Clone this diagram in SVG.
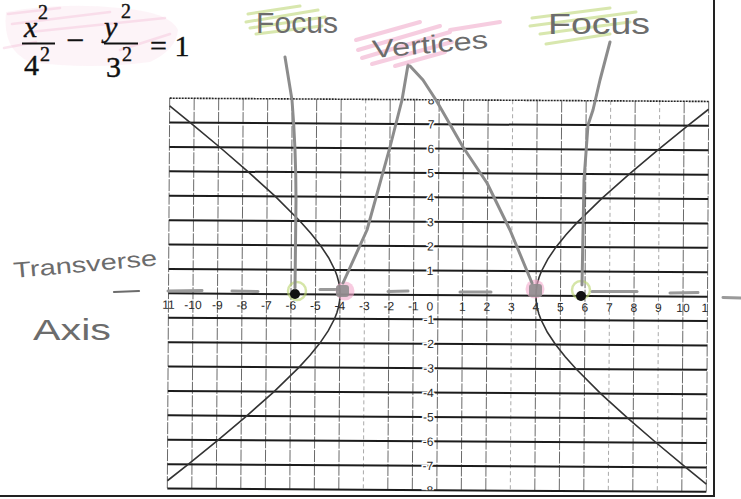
<svg xmlns="http://www.w3.org/2000/svg" width="741" height="499" viewBox="0 0 741 499">
<style>
.hl{stroke:#1c1c1c;stroke-width:2;fill:none}
.vl{stroke:#5a5a5a;stroke-width:0.9;stroke-dasharray:12 1.5;fill:none}
.vlf{stroke:#a0a0a0;stroke-width:0.9;stroke-dasharray:4 3;fill:none}
.lbl{font-family:"Liberation Sans",Arial,sans-serif;font-size:12px;fill:#2a2a2a;text-anchor:middle}
.ylbl{font-family:"Liberation Sans",Arial,sans-serif;font-size:12px;fill:#2a2a2a;text-anchor:middle;stroke:#fff;stroke-width:3;paint-order:stroke}
.curve{stroke:#333;stroke-width:1.6;fill:none}
.math{font-family:"Liberation Serif","Times New Roman",serif;fill:#111;stroke:#111;stroke-width:0.4}
.hand{font-family:"Liberation Sans",Arial,sans-serif;fill:#6c6c6c}
.pencil{stroke:#8c8c8c;stroke-width:3;fill:none;stroke-linecap:round;stroke-linejoin:round}
.tick{stroke:#9a9a9a;stroke-width:3;stroke-linecap:round}
.green{stroke:#b9d46c;stroke-width:3;opacity:.55;stroke-linecap:round}
.pink{stroke:#ee9cc2;stroke-width:3;opacity:.5;stroke-linecap:round}
</style>
<defs>
<path id="branch" d="M98,0 L98.3,-6.1 L99.3,-12.2 L101,-18.3 L103.3,-24.4 L109.6,-36.6 L117.8,-48.8 L127.6,-61 L138.6,-73.2 L163.3,-97.6 L190.5,-122 L219.1,-146.4 L248.8,-170.8 L269.5,-187.4"/>
<clipPath id="gclip"><rect x="-272" y="-195.2" width="544" height="390.4"/></clipPath>
</defs>
<rect width="741" height="499" fill="#fff"/>

<g id="equation-highlight">
<path d="M6,12 Q60,2 120,8 Q170,12 178,30 Q176,50 150,62 Q90,70 30,62 Q2,50 6,12 Z" fill="#f9dbe8" opacity=".3"/>
<path class="pink" d="M8,14 L60,8 M12,24 L110,12 M30,32 L165,18 M120,50 L170,34 M4,48 L36,42" style="stroke-width:2.5;opacity:.25"/>
</g>

<g id="equation">
<text class="math" x="24" y="37" font-size="30" font-style="italic">x</text>
<text class="math" x="38" y="19" font-size="20">2</text>
<line x1="22" y1="43.5" x2="55" y2="43.5" stroke="#111" stroke-width="1.8"/>
<text class="math" x="24" y="75" font-size="30">4</text>
<text class="math" x="40" y="61" font-size="20">2</text>
<text class="math" x="66" y="51" font-size="32">−</text>
<text class="math" x="104" y="37" font-size="30" font-style="italic">y</text>
<text class="math" x="121" y="18" font-size="20">2</text>
<line x1="104" y1="43.5" x2="138" y2="43.5" stroke="#111" stroke-width="1.8"/>
<text class="math" x="106" y="77" font-size="30">3</text>
<text class="math" x="122" y="61" font-size="20">2</text>
<text class="math" x="150" y="56" font-size="30">= 1</text>
</g>

<g id="graph" transform="translate(438,295) rotate(0.35)">
<g id="grid">
<path class="vl" d="M-269.5,-195.2V195.2M-245,-195.2V195.2M-220.5,-195.2V195.2M-196,-195.2V195.2M-171.5,-195.2V195.2M-147,-195.2V195.2M-122.5,-195.2V195.2M-98,-195.2V195.2M-49,-195.2V195.2M-24.5,-195.2V195.2M0,-195.2V195.2M24.5,-195.2V195.2M49,-195.2V195.2M98,-195.2V195.2M122.5,-195.2V195.2M147,-195.2V195.2M196,-195.2V195.2M245,-195.2V195.2M269.5,-195.2V195.2"/>
<path class="vlf" d="M-73.5,-195.2V195.2M73.5,-195.2V195.2M171.5,-195.2V195.2M220.5,-195.2V195.2"/>
<path class="hl" d="M-269.5,-170.8H269.5M-269.5,-146.4H269.5M-269.5,-122H269.5M-269.5,-97.6H269.5M-269.5,-73.2H269.5M-269.5,-48.8H269.5M-269.5,-24.4H269.5M-269.5,0H269.5M-269.5,24.4H269.5M-269.5,48.8H269.5M-269.5,73.2H269.5M-269.5,97.6H269.5M-269.5,122H269.5M-269.5,146.4H269.5M-269.5,170.8H269.5M-269.5,195.2H269.5"/>
<path d="M-269.5,-195.2H269.5" stroke="#222" stroke-width="1.6" stroke-dasharray="2 1" fill="none"/>
</g>
<g id="x-labels">
<text class="lbl" x="-269.5" y="15.5">11</text>
<text class="lbl" x="-245" y="15.5">-10</text>
<text class="lbl" x="-220.5" y="15.5">-9</text>
<text class="lbl" x="-196" y="15.5">-8</text>
<text class="lbl" x="-171.5" y="15.5">-7</text>
<text class="lbl" x="-147" y="15.5">-6</text>
<text class="lbl" x="-122.5" y="15.5">-5</text>
<text class="lbl" x="-98" y="15.5">-4</text>
<text class="lbl" x="-73.5" y="15.5">-3</text>
<text class="lbl" x="-49" y="15.5">-2</text>
<text class="lbl" x="-24.5" y="15.5">-1</text>
<text class="lbl" x="-8" y="15.5">0</text>
<text class="lbl" x="24.5" y="15.5">1</text>
<text class="lbl" x="49" y="15.5">2</text>
<text class="lbl" x="73.5" y="15.5">3</text>
<text class="lbl" x="98" y="15.5">4</text>
<text class="lbl" x="122.5" y="15.5">5</text>
<text class="lbl" x="147" y="15.5">6</text>
<text class="lbl" x="171.5" y="15.5">7</text>
<text class="lbl" x="196" y="15.5">8</text>
<text class="lbl" x="220.5" y="15.5">9</text>
<text class="lbl" x="245" y="15.5">10</text>
<text class="lbl" x="267" y="15.5">1</text>
</g>
<g id="y-labels" clip-path="url(#gclip)">
<text class="ylbl" x="-8" y="-190.8">8</text>
<text class="ylbl" x="-8" y="-166.4">7</text>
<text class="ylbl" x="-8" y="-142">6</text>
<text class="ylbl" x="-8" y="-117.6">5</text>
<text class="ylbl" x="-8" y="-93.2">4</text>
<text class="ylbl" x="-8" y="-68.8">3</text>
<text class="ylbl" x="-8" y="-44.4">2</text>
<text class="ylbl" x="-8" y="-20">1</text>
<text class="ylbl" x="-9" y="28.8">-1</text>
<text class="ylbl" x="-9" y="53.2">-2</text>
<text class="ylbl" x="-9" y="77.6">-3</text>
<text class="ylbl" x="-9" y="102">-4</text>
<text class="ylbl" x="-9" y="126.4">-5</text>
<text class="ylbl" x="-9" y="150.8">-6</text>
<text class="ylbl" x="-9" y="175.2">-7</text>
<text class="ylbl" x="-9" y="199.6">-8</text>
</g>
<g id="hyperbola">
<use href="#branch" class="curve"/>
<use href="#branch" class="curve" transform="scale(-1,1)"/>
<use href="#branch" class="curve" transform="scale(1,-1)"/>
<use href="#branch" class="curve" transform="scale(-1,-1)"/>
</g>
</g>

<g id="transverse-axis-marks">
<line class="tick" x1="168" y1="291" x2="202" y2="290.5"/>
<line class="tick" x1="232" y1="291" x2="258" y2="291.5"/>
<line class="tick" x1="320" y1="289.5" x2="338" y2="289.5"/>
<line class="tick" x1="388" y1="291.5" x2="408" y2="291"/>
<line class="tick" x1="460" y1="292" x2="491" y2="292"/>
<line class="tick" x1="592" y1="291.5" x2="637" y2="291.5"/>
<line class="tick" x1="670" y1="293" x2="698" y2="292.5"/>
<line class="tick" x1="723" y1="297.5" x2="741" y2="298"/>
</g>

<g id="frame">
<line x1="714" y1="0" x2="714" y2="497" stroke="#222" stroke-width="2"/>
<line x1="0" y1="496" x2="715" y2="496" stroke="#222" stroke-width="2"/>
</g>

<g id="point-focus-left">
<circle cx="297" cy="291" r="9" fill="none" class="green" style="stroke-width:2.5;opacity:.6"/>
<circle cx="295" cy="294" r="5" fill="#111"/>
</g>
<g id="point-vertex-left">
<circle cx="345" cy="291" r="9.5" fill="#f3a9cb" opacity=".6"/>
<rect x="336" y="285" width="13" height="12" rx="3" fill="#8a8a8a" opacity=".85"/>
</g>
<g id="point-vertex-right">
<circle cx="535" cy="289" r="9.5" fill="#f3a9cb" opacity=".6"/>
<rect x="529" y="284" width="13" height="13" rx="3" fill="#8a8a8a" opacity=".85"/>
</g>
<g id="point-focus-right">
<circle cx="581" cy="290" r="9" fill="none" class="green" style="stroke-width:2.5;opacity:.6"/>
<circle cx="581" cy="296" r="5" fill="#111"/>
</g>

<g id="connectors">
<path class="pencil" d="M285,57 L292,100 Q296,150 296,200 L295,288"/>
<path class="pencil" d="M408,65 L402,100 L390,147 L367,230 L343,283"/>
<path class="pencil" d="M410,66 L423,80 L436,100 L463,147 L487,183 L510,230 L532,283"/>
<path class="pencil" d="M610,42 L600,80 L593,110 L588,125 L584,180 L582,285"/>
</g>

<g id="label-focus-left">
<path class="green" d="M248,14 L300,6 M246,22 L318,10 M250,28 L325,17 M256,34 L322,26"/>
<text class="hand" x="256" y="33" font-size="29" textLength="82" lengthAdjust="spacingAndGlyphs">Focus</text>
</g>
<g id="label-vertices">
<path class="pink" d="M356,40 L420,22 M358,50 L440,26 M362,58 L450,32 M372,64 L452,42 M395,66 L445,52 M450,30 L500,22" style="stroke-width:4"/>
<text class="hand" x="373" y="58" font-size="25" textLength="116" lengthAdjust="spacingAndGlyphs" transform="rotate(-5 373 58)">Vertices</text>
</g>
<g id="label-focus-right">
<path class="green" d="M532,18 L610,8 M530,26 L636,12 M540,34 L630,22 M546,44 L610,34"/>
<text class="hand" x="548" y="34" font-size="30" textLength="102" lengthAdjust="spacingAndGlyphs">Focus</text>
</g>
<g id="label-transverse-axis">
<text class="hand" x="14" y="278" font-size="22" textLength="144" lengthAdjust="spacingAndGlyphs" transform="rotate(-5 14 278)">Transverse</text>
<line x1="114" y1="292" x2="139" y2="291" stroke="#6c6c6c" stroke-width="2.2" stroke-linecap="round"/>
<text class="hand" x="33" y="340" font-size="30" textLength="78" lengthAdjust="spacingAndGlyphs">Axis</text>
</g>
</svg>
